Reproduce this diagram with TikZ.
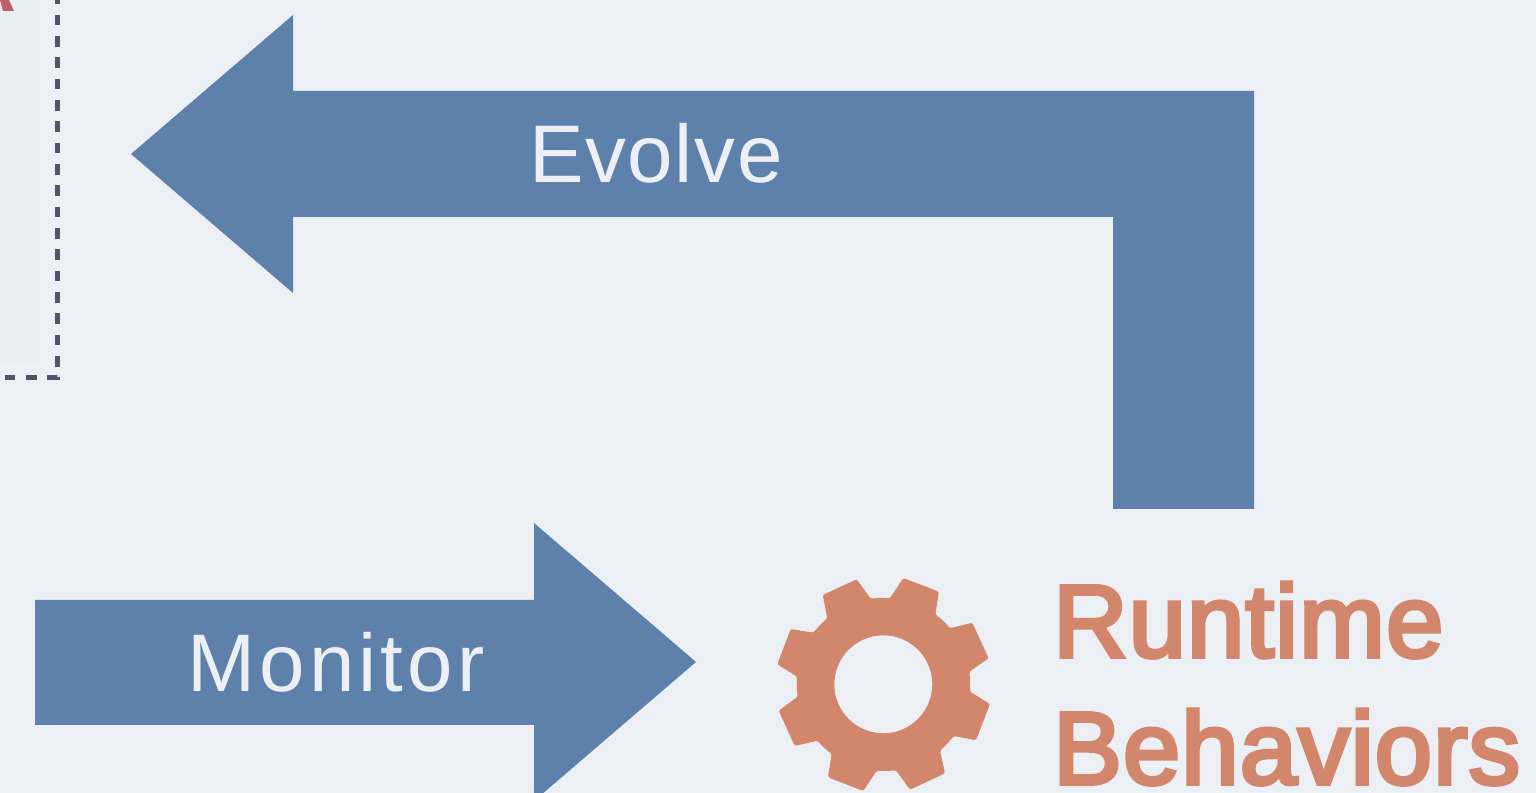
\documentclass[tikz,border=0pt]{standalone}
\usepackage{fontspec}
\setmainfont{Liberation Sans}
\newfontfamily\flowfont[LetterSpace=2]{Liberation Sans}
\newfontfamily\gearfont[FakeBold=4, LetterSpace=1.2]{Liberation Sans}
\usetikzlibrary{positioning}
\definecolor{pagebg}{HTML}{ECEFF4}
\definecolor{panelbg}{HTML}{E9EEF3}
\definecolor{flowblue}{HTML}{5E81AC}
\definecolor{gearorange}{HTML}{D2866B}
\definecolor{markred}{HTML}{BF616A}
\definecolor{dashgrey}{HTML}{4C566A}
\tikzset{
    flowarrow/.style={fill=flowblue, draw=none},
    flowlabel/.style={text=pagebg, anchor=base, inner sep=0pt, font=\flowfont\fontsize{46.5}{54}\selectfont},
    gearlabel/.style={text=gearorange, anchor=north west, align=left, inner sep=0pt, font=\gearfont\fontsize{58.5}{72.3}\selectfont}
}

\begin{document}
\begin{tikzpicture}[x=0.02cm, y=-0.02cm]
        \path[use as bounding box, fill=pagebg] (0,0) rectangle (1536,793);

        % corner of the panel on the left
        \fill [panelbg] (0,0) rectangle (39,363);
        \fill [markred] (0,0) -- (9,0) -- (14,11) -- (3,11) -- cycle;
        \draw [dashgrey, line width=3.13pt, dash pattern=on 6.07pt off 6.07pt] (57.7,-6.67) -- (57.7,377.7) -- (-10,377.7);

        % arrows
        \path [flowarrow] (131,154) -- (293,15) -- (293,91) -- (1254,91) -- (1254,509) -- (1113,509) -- (1113,217) -- (293,217) -- (293,293) -- cycle;
        \path [flowarrow] (35,600) -- (534,600) -- (534,523) -- (696,662) -- (534,801) -- (534,725) -- (35,725) -- cycle;
        \node [flowlabel] (evolve) at (656,183) {Evolve};
        \node [flowlabel] (monitor) at (336,692) {\addfontfeature{LetterSpace=5}Monitor};

        % gear
        \fill [gearorange, even odd rule, rounded corners=1.2pt]
            (822.7,595) -- (856.7,579.3) -- (870.7,598.7) -- (880.3,597.7) -- (890,598.3)
            -- (903.3,578) -- (939,591.7) -- (935.3,614.3) -- (943.3,620.7) -- (950,628.3)
            -- (972.3,622.7) -- (988.7,658.3) -- (969.3,671.7) -- (970.3,681.7) -- (970,691.7)
            -- (990,704) -- (976,740.3) -- (954,736) -- (947.3,743.7) -- (940,750.7)
            -- (945,773.3) -- (910,789.7) -- (896,770.3) -- (886.3,771) -- (876.7,770.7)
            -- (863.3,791) -- (828,777.3) -- (831.7,754) -- (824,747.7) -- (817.3,740.7)
            -- (794.7,746) -- (778.7,710.7) -- (797.7,696.7) -- (796.7,686.7) -- (797,676.7)
            -- (777.3,664.3) -- (790.7,629) -- (813.3,632.7) -- (820,625) -- (827.3,618.3) -- cycle
            (883.3,684.3) circle (0.98cm);
        \node [gearlabel] (behaviors) at (1053,582) {Runtime\\Behaviors};
    \end{tikzpicture}
\end{document}
